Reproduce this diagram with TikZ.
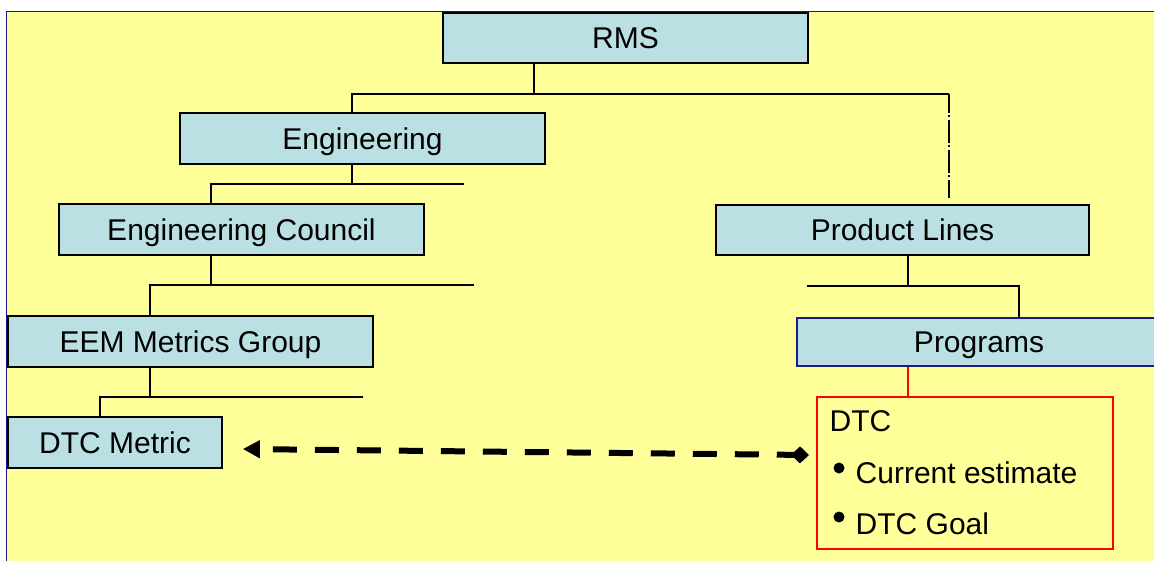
\documentclass[tikz,border=0pt]{standalone}
\usepackage{fontspec}
\setmainfont{Liberation Sans}
\usetikzlibrary{arrows.meta}
\definecolor{pagebg}{HTML}{FFFF99}
\definecolor{boxfill}{HTML}{BBE0E3}
\definecolor{navy}{HTML}{1A1A8C}
\begin{document}
\begin{tikzpicture}[x=1pt,y=-1pt,
  labelfont/.style={font=\fontsize{30}{36}\selectfont},
  orgbox/.style={rectangle, draw=black, line width=1.7pt, fill=boxfill,
    inner sep=0pt, text height=21.5pt, text depth=0pt, labelfont},
  conn/.style={line width=1.7pt, black},
  dashdotline/.style={conn, dash pattern=on 23pt off 2.5pt on 1.5pt off 3pt, dash phase=4.5pt},
  itemtext/.style={anchor=base west, inner sep=0pt, labelfont},
  bulletdot/.style={circle, fill=black, inner sep=0pt, minimum size=11pt},
  linkarrow/.style={line width=6pt, dash pattern=on 24pt off 18pt, dash phase=28pt,
    {Triangle[length=17pt,width=17pt]}-{Diamond[length=18pt,width=17pt]}}
]
\clip (0,0) rectangle (1154,560);
\fill[white] (0,0) rectangle (1154,560);
% slide panel
\draw[navy, line width=1.5pt, fill=pagebg] (6.5,11.5) rectangle (1170,580);

% organisation boxes
\node[orgbox, minimum width=365pt, minimum height=50pt] (rms)     at (625.5,38)    {RMS};
\node[orgbox, minimum width=365pt, minimum height=51pt] (eng)     at (362.5,138.5) {Engineering};
\node[orgbox, minimum width=365pt, minimum height=51pt] (council) at (241.5,229.5) {Engineering Council};
\node[orgbox, minimum width=365pt, minimum height=51pt] (eem)     at (190.5,341.5) {EEM Metrics Group};
\node[orgbox, minimum width=214pt, minimum height=51pt] (metric)  at (115,442.5)   {DTC Metric};
\node[orgbox, minimum width=373pt, minimum height=50pt] (plines)  at (902.5,230)   {Product Lines};
\node[orgbox, draw=navy, minimum width=364pt, minimum height=48pt] (programs) at (979,342) {Programs};

% DTC detail box
\node[draw=red, line width=2pt, minimum width=296pt, minimum height=152pt, inner sep=0pt] (dtc) at (965,473) {};
\node[itemtext] (dtctitle) at (829.5,431) {DTC};
\node[bulletdot] (bul1) at (839,468) {};
\node[itemtext] (item1) at (855.5,483) {Current estimate};
\node[bulletdot] (bul2) at (839,517) {};
\node[itemtext] (item2) at (855.5,534) {DTC Goal};

% bus junctions
\coordinate (rmsdrop) at (534,94);
\coordinate (busAl) at (352,94);
\coordinate (busAr) at (949,94);
\coordinate (plend) at (949,198);
\coordinate (busBm) at (352,184);
\coordinate (busBl) at (211,184);
\coordinate (busBr) at (464,184);
\coordinate (busCm) at (211,285);
\coordinate (busCl) at (150,285);
\coordinate (busCr) at (474,285);
\coordinate (busDm) at (150,397);
\coordinate (busDl) at (100,397);
\coordinate (busDr) at (363,397);
\coordinate (busEm) at (908,286);
\coordinate (busEl) at (807,286);
\coordinate (busEr) at (1019,286);

% connectors
\draw[conn] (rms.south -| rmsdrop) -- (rmsdrop);
\draw[conn] (eng.north -| busAl) -- (busAl) -- (busAr);
\draw[dashdotline] (busAr) -- (plend);

\draw[conn] (eng.south -| busBm) -- (busBm);
\draw[conn] (council.north -| busBl) -- (busBl) -- (busBr);

\draw[conn] (council.south -| busCm) -- (busCm);
\draw[conn] (eem.north -| busCl) -- (busCl) -- (busCr);

\draw[conn] (eem.south -| busDm) -- (busDm);
\draw[conn] (metric.north -| busDl) -- (busDl) -- (busDr);

\draw[conn] (plines.south -| busEm) -- (busEm);
\draw[conn] (busEl) -- (busEr) -- (programs.north -| busEr);

\draw[red, line width=1.7pt] (programs.south -| busEm) -- (dtc.north -| busEm);

% link between metric and programme data
\draw[linkarrow] ([xshift=20pt,yshift=-6.5pt]metric.east) -- ([xshift=-7pt,yshift=18pt]dtc.west);
\end{tikzpicture}
\end{document}
